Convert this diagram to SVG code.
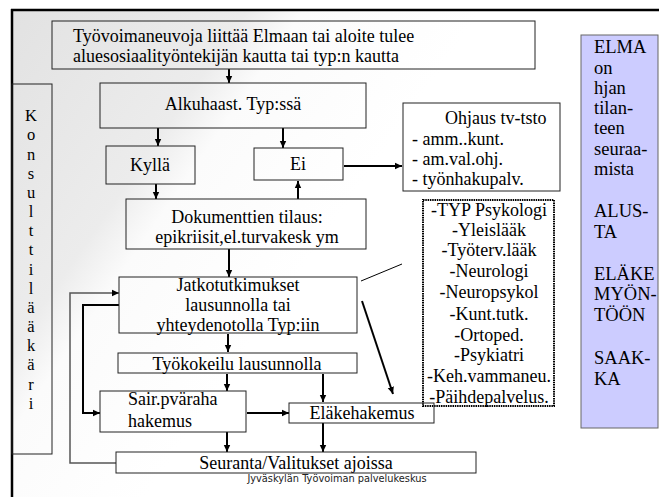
<svg xmlns="http://www.w3.org/2000/svg" width="659" height="497" viewBox="0 0 659 497">
<defs>
<linearGradient id="bg" gradientUnits="userSpaceOnUse" x1="12" y1="10" x2="330" y2="230">
<stop offset="0" stop-color="#e2e2e2"/>
<stop offset="0.5" stop-color="#ececec"/>
<stop offset="0.62" stop-color="#fbfbfb"/>
<stop offset="1" stop-color="#ffffff"/>
</linearGradient>
<marker id="ah" markerUnits="userSpaceOnUse" markerWidth="8" markerHeight="8" refX="7" refY="4" orient="auto">
<path d="M0,0.8 L7,4 L0,7.2 z" fill="#000"/>
</marker>
</defs>
<style>
.box{fill:none;stroke:#222;stroke-width:1}
.t{font-family:"Liberation Serif","Times New Roman",serif;font-size:18px;fill:#000}
.c{text-anchor:middle}
.e{font-size:18.5px}
.k{font-size:16.5px}
.con{stroke:#000;stroke-width:2;fill:none}
</style>
<rect x="0" y="0" width="659" height="497" fill="#fff"/>
<rect x="12" y="10" width="647" height="487" fill="url(#bg)"/>
<line x1="11" y1="10" x2="659" y2="10" stroke="#000" stroke-width="2.5"/>
<line x1="12" y1="9" x2="12" y2="497" stroke="#000" stroke-width="2.5"/>

<g id="connectors">
<line class="con" x1="229" y1="69" x2="229" y2="83" marker-end="url(#ah)"/>
<line class="con" x1="158" y1="128" x2="158" y2="146" marker-end="url(#ah)"/>
<line class="con" x1="283" y1="128" x2="283" y2="148" marker-end="url(#ah)"/>
<line class="con" x1="344" y1="166" x2="402" y2="166" marker-end="url(#ah)"/>
<line class="con" x1="298" y1="199" x2="298" y2="181" marker-end="url(#ah)"/>
<line class="con" x1="156" y1="184" x2="156" y2="199" marker-end="url(#ah)"/>
<line class="con" x1="229" y1="249" x2="229" y2="277" marker-end="url(#ah)"/>
<line x1="361" y1="281" x2="402" y2="264" stroke="#000" stroke-width="1"/>
<line class="con" x1="362" y1="301" x2="393" y2="394" marker-end="url(#ah)"/>
<line class="con" x1="228" y1="334" x2="228" y2="352" marker-end="url(#ah)"/>
<line class="con" x1="227" y1="374" x2="227" y2="391" marker-end="url(#ah)"/>
<line class="con" x1="323" y1="374" x2="323" y2="402" marker-end="url(#ah)"/>
<line class="con" x1="247" y1="413" x2="289" y2="413" marker-end="url(#ah)"/>
<line class="con" x1="227" y1="432" x2="227" y2="452" marker-end="url(#ah)"/>
<line class="con" x1="323" y1="423" x2="323" y2="452" marker-end="url(#ah)"/>
<polyline points="116,463 70,463 70,293 119,293" fill="none" stroke="#555" stroke-width="1.5" marker-end="url(#ah)"/>
<polyline class="con" points="119,305 83,305 83,413 100,413" marker-end="url(#ah)"/>
</g>

<g id="top">
<rect class="box" x="52" y="21" width="483" height="48"/>
<text class="t" x="73" y="42">Työvoimaneuvoja liittää Elmaan tai aloite tulee</text>
<text class="t" x="73" y="62">aluesosiaalityöntekijän kautta tai typ:n kautta</text>
</g>

<g id="alku">
<rect class="box" x="100" y="83" width="266" height="45"/>
<text class="t c" x="233" y="110">Alkuhaast. Typ:ssä</text>
</g>

<g id="konsultti">
<rect class="box" x="12" y="84" width="40" height="370"/>
<g class="t c k">
<text x="31" y="121">K</text>
<text x="31" y="140">o</text>
<text x="31" y="160">n</text>
<text x="31" y="179">s</text>
<text x="31" y="198">u</text>
<text x="31" y="217">l</text>
<text x="31" y="236">t</text>
<text x="31" y="255">t</text>
<text x="31" y="275">i</text>
<text x="31" y="294">l</text>
<text x="31" y="313">ä</text>
<text x="31" y="332">ä</text>
<text x="31" y="351">k</text>
<text x="31" y="370">ä</text>
<text x="31" y="390">r</text>
<text x="31" y="409">i</text>
</g>
</g>

<g id="kylla">
<rect class="box" x="106" y="146" width="89" height="38"/>
<text class="t c" x="150" y="171">Kyllä</text>
</g>

<g id="ei">
<rect class="box" x="254" y="148" width="89" height="32"/>
<text class="t c" x="298" y="170">Ei</text>
</g>

<g id="ohjaus">
<rect class="box" x="403" y="103" width="157" height="88"/>
<text class="t" x="445" y="124">Ohjaus tv-tsto</text>
<text class="t" x="412" y="145">- amm..kunt.</text>
<text class="t" x="412" y="165">- am.val.ohj.</text>
<text class="t" x="412" y="185">- työnhakupalv.</text>
</g>

<g id="dokumentit">
<rect class="box" x="126" y="199" width="240" height="50"/>
<text class="t c" x="247" y="223">Dokumenttien tilaus:</text>
<text class="t c" x="247" y="243">epikriisit,el.turvakesk ym</text>
</g>

<g id="jatko">
<rect class="box" x="119" y="277" width="238" height="56"/>
<text class="t c" x="238" y="291">Jatkotutkimukset</text>
<text class="t c" x="238" y="311">lausunnolla tai</text>
<text class="t c" x="238" y="331">yhteydenotolla Typ:iin</text>
</g>

<g id="typ">
<rect x="423" y="200" width="131" height="206" fill="none" stroke="#000" stroke-width="2" stroke-dasharray="1.5 0.8"/>
<g class="t c">
<text x="489" y="216">-TYP Psykologi</text>
<text x="489" y="236">-Yleislääk</text>
<text x="489" y="256">-Työterv.lääk</text>
<text x="489" y="277">-Neurologi</text>
<text x="489" y="298">-Neuropsykol</text>
<text x="489" y="320">-Kunt.tutk.</text>
<text x="489" y="341">-Ortoped.</text>
<text x="489" y="361">-Psykiatri</text>
<text x="489" y="382">-Keh.vammaneu.</text>
<text x="489" y="403">-Päihdepalvelus.</text>
</g>
</g>

<g id="elma">
<rect x="581" y="35" width="77" height="393" fill="#ccccff" stroke="#666" stroke-width="1"/>
<g class="t e">
<text x="594" y="53">ELMA</text>
<text x="594" y="74">on</text>
<text x="594" y="94">hjan</text>
<text x="594" y="114">tilan-</text>
<text x="594" y="134">teen</text>
<text x="594" y="155">seuraa-</text>
<text x="594" y="175">mista</text>
<text x="594" y="217">ALUS-</text>
<text x="594" y="238">TA</text>
<text x="594" y="280">ELÄKE</text>
<text x="594" y="300">MYÖN-</text>
<text x="594" y="321">TÖÖN</text>
<text x="594" y="364">SAAK-</text>
<text x="594" y="385">KA</text>
</g>
</g>

<g id="tyokokeilu">
<rect class="box" x="118" y="353" width="239" height="20"/>
<text class="t c" x="237" y="370">Työkokeilu lausunnolla</text>
</g>

<g id="sair">
<rect class="box" x="100" y="391" width="146" height="41"/>
<text class="t" x="128" y="405">Sair.pväraha</text>
<text class="t" x="128" y="427">hakemus</text>
</g>

<g id="elake">
<rect class="box" x="289" y="403" width="145" height="20"/>
<text class="t c" x="362" y="419">Eläkehakemus</text>
</g>

<g id="seuranta">
<rect class="box" x="116" y="452" width="360" height="21"/>
<text class="t c" x="296" y="469">Seuranta/Valitukset ajoissa</text>
</g>

<text x="337" y="482" text-anchor="middle" font-family="DejaVu Sans, Verdana, sans-serif" font-size="9.8" fill="#222">Jyväskylän Työvoiman palvelukeskus</text>
</svg>
